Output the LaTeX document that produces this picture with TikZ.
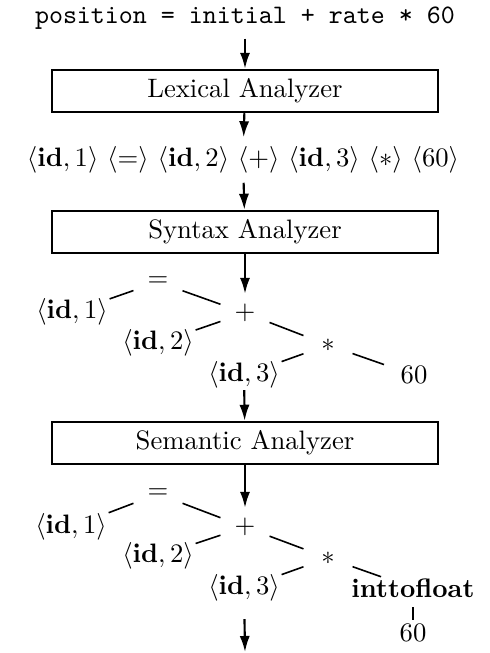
\documentclass[tikz,border=0pt]{standalone}
\usepackage{amsmath, amssymb}
\usepackage{tikz}
\usetikzlibrary{arrows.meta}

\begin{document}
\begin{tikzpicture}[x=0.375pt,y=-0.375pt]
\useasboundingbox (0,0) rectangle (489,653);

\node (src) at (245,18) {\texttt{position = initial + rate * 60}};
\node (tok) at (243,160) {$\langle\mathbf{id},1\rangle\ \langle=\rangle\ \langle\mathbf{id},2\rangle\ \langle+\rangle\ \langle\mathbf{id},3\rangle\ \langle*\rangle\ \langle60\rangle$};

\begin{scope}[every node/.style={rectangle,thick,draw,minimum width=145pt,minimum height=14.5pt}]
    \node (lex) at (245,91) {Lexical Analyzer};
    \node (syn) at (245,232) {Syntax Analyzer};
    \node (sem) at (245,443) {Semantic Analyzer};
\end{scope}

\begin{scope}[every node/.style={inner sep=0.5pt},
              op/.style={minimum size=18pt,inner sep=0pt}]
    % tree after syntax analysis
    \node[op] (eqA) at (158,282) {$=$};
    \node (idA1) at (72,312) {$\langle\mathbf{id},1\rangle$};
    \node[op] (plusA) at (245,313) {$+$};
    \node (idA2) at (158,343) {$\langle\mathbf{id},2\rangle$};
    \node[op] (starA) at (328,345) {$*$};
    \node (idA3) at (244,375) {$\langle\mathbf{id},3\rangle$};
    \node[minimum width=24pt] (numA) at (414,375) {$60$};
    % tree after semantic analysis
    \node[op] (eqB) at (158,494) {$=$};
    \node (idB1) at (71,527) {$\langle\mathbf{id},1\rangle$};
    \node[op] (plusB) at (245,527) {$+$};
    \node (idB2) at (158,556) {$\langle\mathbf{id},2\rangle$};
    \node[op] (starB) at (328,558) {$*$};
    \node (idB3) at (244,588) {$\langle\mathbf{id},3\rangle$};
    \node (castB) at (413,588) {\textbf{inttofloat}};
    \node (numB) at (413,633) {$60$};
\end{scope}
\coordinate (out) at (245,652);

\begin{scope}[>={Latex[length=6pt,width=3.8pt]},
              every edge/.style={draw=black,thick}]
    \path [->] (src) edge (lex)
               (lex) edge (tok)
               (tok) edge (syn)
               (syn) edge[shorten >=-2pt] (plusA)
               (idA3) edge (sem)
               (sem) edge[shorten >=-2pt] (plusB)
               (idB3) edge[shorten <=6pt] (out);
\end{scope}

\begin{scope}[every edge/.style={draw=black,semithick}]
    \path [-] (idA1) edge (eqA)
              (eqA) edge (plusA)
              (plusA) edge (idA2)
              (plusA) edge (starA)
              (starA) edge (idA3)
              (starA) edge (numA);
    \path [-] (idB1) edge (eqB)
              (eqB) edge (plusB)
              (plusB) edge (idB2)
              (plusB) edge (starB)
              (starB) edge (idB3)
              (starB) edge (castB)
              (castB) edge[shorten <=3pt,shorten >=1pt] (numB);
\end{scope}
\end{tikzpicture}
\end{document}
